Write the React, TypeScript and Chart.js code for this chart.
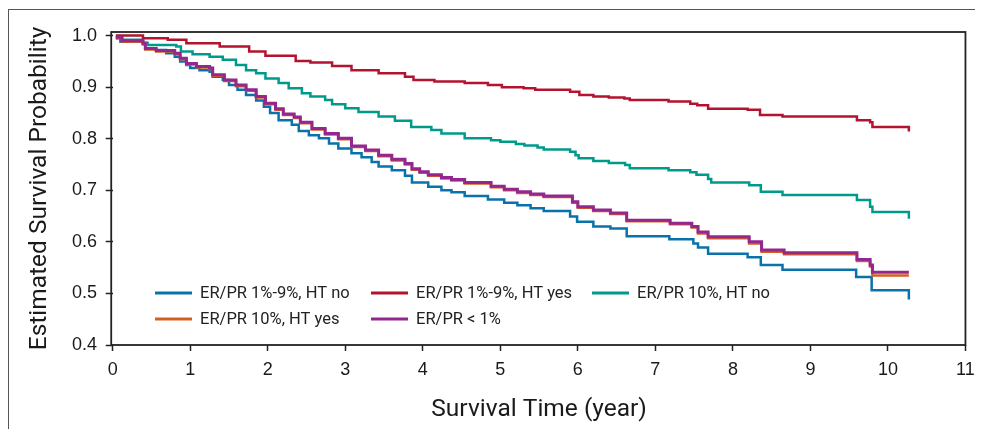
import React, { useEffect, useRef } from "react";
import { Chart, registerables } from "chart.js";

Chart.register(...registerables);

const xTicks = [0, 1, 2, 3, 4, 5, 6, 7, 8, 9, 10, 11];
const yTicks = [0.4, 0.5, 0.6, 0.7, 0.8, 0.9, 1.0];

const seriesLabels = [
  "ER/PR 1%-9%, HT no",
  "ER/PR 1%-9%, HT yes",
  "ER/PR 10%, HT no",
  "ER/PR 10%, HT yes",
  "ER/PR < 1%",
];
const seriesColors = ["#0a72ab", "#b3132f", "#009a8c", "#d4601f", "#93278f"];

// ER/PR 1%-9%, HT no
const blueTimes = [0.04, 0.1, 0.39, 0.42, 0.56, 0.69, 0.8, 0.87, 0.95, 1.0, 1.12, 1.25, 1.29, 1.42, 1.5, 1.61, 1.72, 1.85, 1.95, 2.03, 2.14, 2.31, 2.4, 2.53, 2.66, 2.79, 2.91, 3.08, 3.21, 3.34, 3.43, 3.6, 3.77, 3.86, 4.07, 4.24, 4.37, 4.54, 4.84, 5.05, 5.22, 5.39, 5.56, 5.9, 5.99, 6.2, 6.42, 6.63, 7.18, 7.49, 7.55, 7.68, 8.19, 8.36, 8.64, 9.59, 9.79, 10.27];
const blueSurv = [0.997, 0.988, 0.984, 0.975, 0.972, 0.966, 0.959, 0.95, 0.943, 0.937, 0.933, 0.93, 0.92, 0.914, 0.904, 0.895, 0.885, 0.874, 0.862, 0.85, 0.836, 0.827, 0.815, 0.807, 0.801, 0.791, 0.781, 0.772, 0.764, 0.755, 0.746, 0.739, 0.728, 0.715, 0.707, 0.7, 0.696, 0.689, 0.682, 0.676, 0.671, 0.665, 0.66, 0.649, 0.639, 0.63, 0.626, 0.611, 0.605, 0.597, 0.589, 0.577, 0.57, 0.555, 0.546, 0.532, 0.506, 0.488];

// ER/PR 1%-9%, HT yes
const redTimes = [0.04, 0.39, 0.71, 0.95, 1.38, 1.76, 1.97, 2.36, 2.55, 2.83, 3.08, 3.43, 3.77, 3.88, 4.15, 4.54, 4.84, 5.02, 5.3, 5.45, 5.9, 6.02, 6.2, 6.4, 6.6, 6.67, 7.17, 7.45, 7.54, 7.68, 8.19, 8.35, 8.64, 9.6, 9.77, 9.8, 10.27];
const redSurv = [1.0, 0.995, 0.992, 0.985, 0.979, 0.969, 0.961, 0.951, 0.948, 0.941, 0.933, 0.927, 0.92, 0.914, 0.911, 0.908, 0.904, 0.9, 0.898, 0.895, 0.891, 0.885, 0.882, 0.88, 0.878, 0.875, 0.872, 0.868, 0.865, 0.858, 0.856, 0.846, 0.843, 0.836, 0.832, 0.823, 0.814];

// ER/PR 10%, HT no
const tealTimes = [0.04, 0.1, 0.39, 0.45, 0.82, 0.88, 1.03, 1.25, 1.42, 1.59, 1.72, 1.85, 1.97, 2.14, 2.27, 2.44, 2.55, 2.74, 2.83, 3.0, 3.17, 3.43, 3.64, 3.85, 4.11, 4.24, 4.54, 4.88, 5.0, 5.2, 5.31, 5.48, 5.56, 5.9, 5.97, 6.01, 6.2, 6.4, 6.61, 6.67, 7.17, 7.45, 7.53, 7.68, 7.72, 8.21, 8.36, 8.64, 9.6, 9.77, 9.8, 10.27];
const tealSurv = [0.995, 0.992, 0.986, 0.982, 0.979, 0.969, 0.964, 0.959, 0.953, 0.943, 0.933, 0.927, 0.917, 0.908, 0.898, 0.888, 0.882, 0.875, 0.867, 0.859, 0.852, 0.843, 0.835, 0.823, 0.817, 0.81, 0.801, 0.797, 0.794, 0.79, 0.787, 0.783, 0.779, 0.775, 0.768, 0.762, 0.757, 0.753, 0.749, 0.743, 0.739, 0.735, 0.73, 0.722, 0.715, 0.71, 0.697, 0.691, 0.681, 0.668, 0.658, 0.645];

// ER/PR 10%, HT yes
const orangeTimes = [0.04, 0.12, 0.39, 0.42, 0.56, 0.8, 0.87, 0.95, 1.08, 1.25, 1.29, 1.44, 1.59, 1.72, 1.85, 1.97, 2.1, 2.2, 2.34, 2.42, 2.57, 2.74, 2.91, 3.08, 3.26, 3.43, 3.6, 3.77, 3.86, 3.96, 4.07, 4.24, 4.37, 4.54, 4.88, 5.05, 5.22, 5.39, 5.56, 5.93, 6.0, 6.2, 6.42, 6.63, 7.19, 7.47, 7.55, 7.68, 8.21, 8.37, 8.66, 9.6, 9.77, 9.8, 10.27];
const orangeSurv = [0.995, 0.988, 0.983, 0.973, 0.969, 0.964, 0.954, 0.944, 0.938, 0.935, 0.922, 0.912, 0.902, 0.893, 0.88, 0.867, 0.856, 0.846, 0.84, 0.83, 0.818, 0.808, 0.799, 0.784, 0.776, 0.766, 0.758, 0.75, 0.74, 0.734, 0.728, 0.723, 0.719, 0.713, 0.706, 0.7, 0.695, 0.691, 0.687, 0.676, 0.666, 0.66, 0.654, 0.64, 0.634, 0.628, 0.616, 0.607, 0.597, 0.581, 0.576, 0.563, 0.552, 0.535, 0.535];

// ER/PR < 1%
const purpleTimes = [0.04, 0.12, 0.39, 0.42, 0.56, 0.8, 0.87, 0.95, 1.08, 1.25, 1.29, 1.44, 1.59, 1.72, 1.85, 1.97, 2.1, 2.2, 2.34, 2.42, 2.57, 2.74, 2.91, 3.08, 3.26, 3.43, 3.6, 3.77, 3.86, 3.96, 4.07, 4.24, 4.37, 4.54, 4.88, 5.05, 5.22, 5.39, 5.56, 5.93, 6.0, 6.2, 6.42, 6.63, 7.19, 7.47, 7.55, 7.68, 8.21, 8.37, 8.66, 9.6, 9.77, 9.8, 10.27];
const purpleSurv = [0.997, 0.99, 0.985, 0.975, 0.971, 0.966, 0.956, 0.946, 0.94, 0.937, 0.924, 0.914, 0.904, 0.895, 0.882, 0.869, 0.858, 0.848, 0.842, 0.832, 0.82, 0.81, 0.801, 0.786, 0.778, 0.768, 0.76, 0.752, 0.742, 0.736, 0.73, 0.725, 0.721, 0.715, 0.708, 0.702, 0.697, 0.693, 0.689, 0.678, 0.668, 0.662, 0.656, 0.642, 0.636, 0.63, 0.619, 0.61, 0.6, 0.584, 0.579, 0.566, 0.555, 0.541, 0.541];

const xTitle = "Survival Time (year)";
const yTitle = "Estimated Survival Probability";

const seriesTimes = [blueTimes, redTimes, tealTimes, orangeTimes, purpleTimes];
const seriesSurv = [blueSurv, redSurv, tealSurv, orangeSurv, purpleSurv];
const seriesOrder = [3, 4, 5, 2, 1];

const TICK_FONT = "'Liberation Sans', Arial, Helvetica, sans-serif";
const TITLE_FONT = "Roboto, 'Liberation Sans', sans-serif";

const framePlugin = {
  id: "frameAndLegend",
  afterDraw(chart: any) {
    const { ctx, chartArea } = chart;
    const { left, right, top, bottom } = chartArea;
    ctx.save();
    ctx.strokeStyle = "#222";
    ctx.lineWidth = 1.8;
    ctx.strokeRect(left - 1.5, top, right - left + 1.5, bottom - top);
    // legend
    const colX = [42.3, 258.3, 479.3];
    const rowY = [-52, -26];
    ctx.font = "16.5px " + TITLE_FONT;
    ctx.textBaseline = "middle";
    ctx.textAlign = "left";
    chart.data.datasets.forEach((ds: any, i: number) => {
      const x = left + colX[i % 3];
      const y = bottom + rowY[Math.floor(i / 3)];
      ctx.strokeStyle = ds.borderColor;
      ctx.lineWidth = 3;
      ctx.beginPath();
      ctx.moveTo(x, y);
      ctx.lineTo(x + 37, y);
      ctx.stroke();
      ctx.fillStyle = "#222";
      ctx.fillText(ds.label, x + 45, y + 1);
    });
    ctx.restore();
  },
};

export default function App() {
  const canvasRef = useRef<HTMLCanvasElement | null>(null);

  useEffect(() => {
    if (!canvasRef.current) return;
    const datasets = seriesLabels.map((label, i) => ({
      label,
      data: seriesTimes[i].map((t, j) => ({ x: t, y: seriesSurv[i][j] })),
      borderColor: seriesColors[i],
      backgroundColor: seriesColors[i],
      borderWidth: i === 4 ? 3 : 2.5,
      pointRadius: 0,
      fill: false,
      stepped: "before" as const,
      order: seriesOrder[i],
    }));
    const chart = new Chart(canvasRef.current, {
      type: "line",
      data: { datasets },
      options: {
        responsive: false,
        animation: false,
        devicePixelRatio: 1,
        layout: { padding: { left: 0, right: 13.5, top: 22, bottom: 4.3 } },
        plugins: { legend: { display: false }, tooltip: { enabled: false } },
        scales: {
          x: {
            type: "linear",
            min: 0,
            max: 11,
            afterBuildTicks: (scale: any) => {
              scale.ticks = xTicks.map((v) => ({ value: v }));
            },
            ticks: {
              font: { family: TICK_FONT, size: 18 },
              color: "#1a1a1a",
              padding: 8.2,
              maxRotation: 0,
              autoSkip: false,
              callback: (v: any) => String(v),
            },
            grid: {
              display: true,
              drawOnChartArea: false,
              drawTicks: true,
              tickLength: 6,
              tickColor: "#222",
              tickWidth: 1.5,
            },
            border: { display: false },
            title: {
              display: true,
              text: xTitle,
              color: "#1a1a1a",
              font: { family: TITLE_FONT, size: 24.5 },
              padding: { top: 6.3, bottom: 0 },
            },
          },
          y: {
            type: "linear",
            min: 0.4,
            max: 1.007,
            afterBuildTicks: (scale: any) => {
              scale.ticks = yTicks.map((v) => ({ value: v }));
            },
            ticks: {
              font: { family: TICK_FONT, size: 18 },
              color: "#1a1a1a",
              padding: 8.7,
              callback: (v: any) => Number(v).toFixed(1),
            },
            grid: {
              display: true,
              drawOnChartArea: false,
              drawTicks: true,
              tickLength: 7,
              tickColor: "#222",
              tickWidth: 1.5,
            },
            border: { display: false },
            title: {
              display: true,
              text: yTitle,
              color: "#1a1a1a",
              font: { family: TITLE_FONT, size: 24.5 },
              padding: { top: 16.3, bottom: 8.6 },
            },
          },
        },
      },
      plugins: [framePlugin],
    });
    return () => chart.destroy();
  }, []);

  return (
    <div
      style={{
        marginTop: 1,
        borderTop: "1px solid #555",
        borderLeft: "1px solid #555",
        width: 974,
        height: 419,
      }}
    >
      <canvas
        ref={canvasRef}
        width={974}
        height={419}
        style={{ display: "block", width: 974, height: 419 }}
      />
    </div>
  );
}
